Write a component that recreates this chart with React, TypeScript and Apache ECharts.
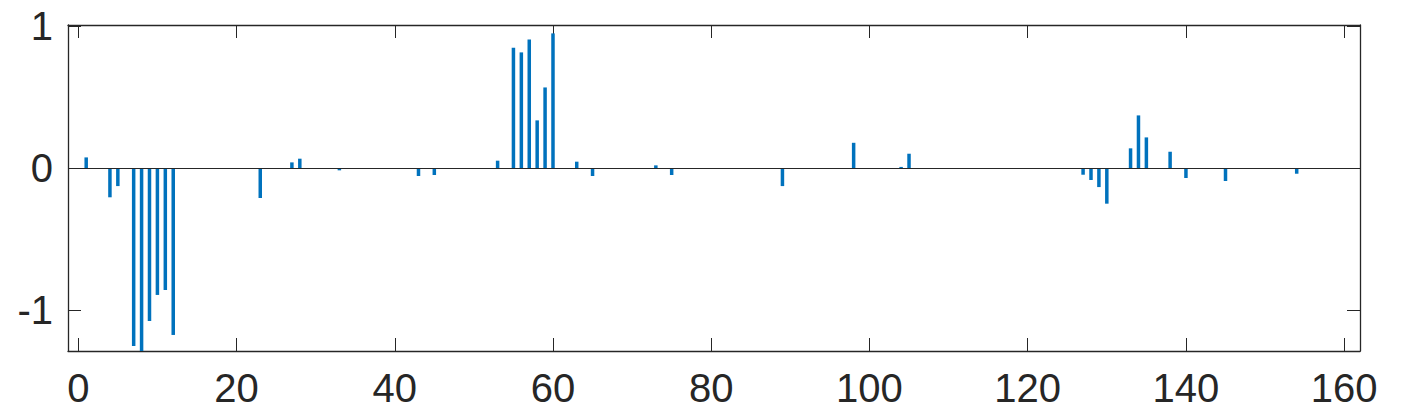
import React, { useEffect, useRef } from "react";
import * as echarts from "echarts";

const xs: number[] = [1, 4, 5, 7, 8, 9, 10, 11, 12, 23, 27, 28, 33, 43, 45, 53, 55, 56, 57, 58, 59, 60, 63, 65, 73, 75, 89, 98, 104, 105, 127, 128, 129, 130, 133, 134, 135, 138, 140, 145, 154];
const ys: number[] = [0.077, -0.204, -0.125, -1.251, -1.287, -1.075, -0.892, -0.857, -1.174, -0.209, 0.042, 0.068, -0.014, -0.054, -0.047, 0.054, 0.849, 0.817, 0.908, 0.338, 0.57, 0.951, 0.047, -0.054, 0.021, -0.047, -0.125, 0.18, 0.01, 0.103, -0.045, -0.082, -0.132, -0.249, 0.141, 0.373, 0.218, 0.117, -0.068, -0.089, -0.038];
const xTicks: number[] = [0, 20, 40, 60, 80, 100, 120, 140, 160];
const yTicks: number[] = [-1, 0, 1];

const AXIS_COLOR = "#262626";
const BAR_COLOR = "#0072BD";
const FONT = "'Liberation Sans', Arial, Helvetica, sans-serif";

export default function App() {
  const ref = useRef<HTMLDivElement>(null);
  useEffect(() => {
    if (!ref.current) return;
    const chart = echarts.init(ref.current, undefined, { renderer: "svg" });
    const tickStyle = { show: true, inside: true, length: 13, lineStyle: { color: AXIS_COLOR, width: 1 } };
    const lineStyle = { show: true, onZero: false, lineStyle: { color: AXIS_COLOR, width: 1.3 } };
    const labelStyle = { color: AXIS_COLOR, fontSize: 40, fontFamily: FONT };
    chart.setOption({
      animation: false,
      grid: { left: 68, top: 25, width: 1292, height: 326, containLabel: false },
      xAxis: [
        {
          type: "value", position: "bottom", min: -1.3, max: 162,
          axisLine: lineStyle,
          axisTick: { ...tickStyle, customValues: xTicks },
          axisLabel: { ...labelStyle, margin: 17, customValues: xTicks },
          splitLine: { show: false },
        },
        {
          type: "value", position: "top", min: -1.3, max: 162,
          axisLine: lineStyle,
          axisTick: { ...tickStyle, customValues: xTicks },
          axisLabel: { show: false },
          splitLine: { show: false },
        },
      ],
      yAxis: [
        {
          type: "value", position: "left", min: -1.287, max: 1.01,
          axisLine: lineStyle,
          axisTick: { ...tickStyle, customValues: yTicks },
          axisLabel: { ...labelStyle, margin: 15, customValues: yTicks },
          splitLine: { show: false },
        },
        {
          type: "value", position: "right", min: -1.287, max: 1.01,
          axisLine: lineStyle,
          axisTick: { ...tickStyle, customValues: yTicks },
          axisLabel: { show: false },
          splitLine: { show: false },
        },
      ],
      series: [
        {
          type: "bar",
          xAxisIndex: 0,
          yAxisIndex: 0,
          barWidth: 3.5,
          itemStyle: { color: BAR_COLOR },
          data: xs.map((x, i) => [x, ys[i]]),
          markLine: {
            silent: true,
            symbol: ["none", "none"],
            label: { show: false },
            lineStyle: { color: AXIS_COLOR, width: 1.2, type: "solid" },
            data: [{ yAxis: 0 }],
          },
        },
      ],
    });
    return () => chart.dispose();
  }, []);
  return (
    <div
      ref={ref}
      style={{ position: "fixed", left: 0, top: 0, width: 1401, height: 410, background: "#fff" }}
    />
  );
}
